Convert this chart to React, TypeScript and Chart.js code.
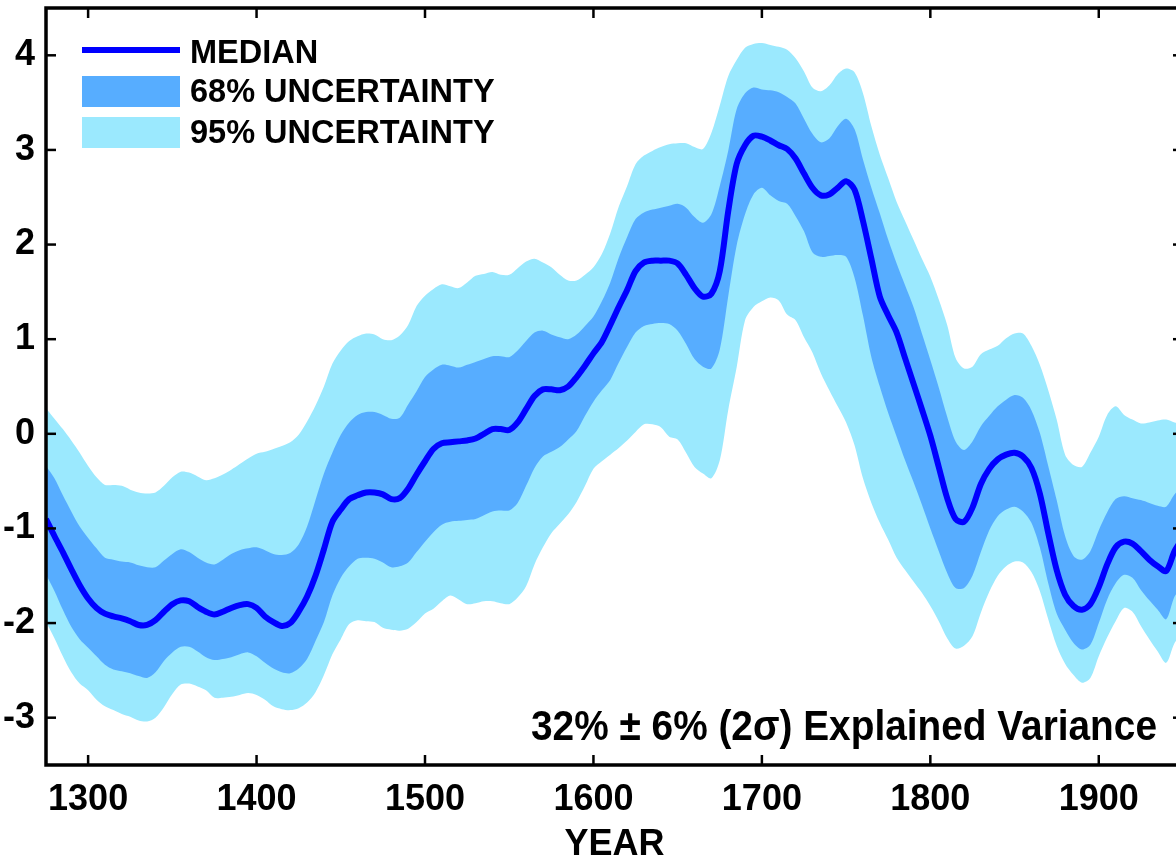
import { useEffect, useRef } from "react";
import { Chart, registerables } from "chart.js";

Chart.register(...registerables);

const years = [
  1275, 1280, 1285, 1290, 1295, 1300, 1305, 1310, 1315, 1320, 1325, 1330, 1335, 1340, 1345, 1350,
  1355, 1360, 1365, 1370, 1375, 1380, 1385, 1390, 1395, 1400, 1405, 1410, 1415, 1420, 1425, 1430,
  1435, 1440, 1445, 1450, 1455, 1460, 1465, 1470, 1475, 1480, 1485, 1490, 1495, 1500, 1505, 1510,
  1515, 1520, 1525, 1530, 1535, 1540, 1545, 1550, 1555, 1560, 1565, 1570, 1575, 1580, 1585, 1590,
  1595, 1600, 1605, 1610, 1615, 1620, 1625, 1630, 1635, 1640, 1645, 1650, 1655, 1660, 1665, 1670,
  1675, 1680, 1685, 1690, 1695, 1700, 1705, 1710, 1715, 1720, 1725, 1730, 1735, 1740, 1745, 1750,
  1755, 1760, 1765, 1770, 1775, 1780, 1785, 1790, 1795, 1800, 1805, 1810, 1815, 1820, 1825, 1830,
  1835, 1840, 1845, 1850, 1855, 1860, 1865, 1870, 1875, 1880, 1885, 1890, 1895, 1900, 1905, 1910,
  1915, 1920, 1925, 1930, 1935, 1940, 1945, 1950,
];

const median = [
  -0.9, -1.08, -1.25, -1.43, -1.6, -1.74, -1.84, -1.9, -1.93, -1.95, -1.98, -2.02, -2.02, -1.97, -1.88, -1.8,
  -1.76, -1.77, -1.83, -1.88, -1.91, -1.88, -1.84, -1.81, -1.8, -1.84, -1.93, -1.99, -2.03, -2.0, -1.88, -1.72,
  -1.5, -1.22, -0.93, -0.8, -0.69, -0.65, -0.62, -0.62, -0.64, -0.69, -0.68, -0.58, -0.43, -0.29, -0.16, -0.1,
  -0.09, -0.08, -0.07, -0.05, 0.0, 0.05, 0.05, 0.04, 0.12, 0.26, 0.4, 0.47, 0.47, 0.46, 0.5, 0.6,
  0.72, 0.85, 0.97, 1.15, 1.34, 1.52, 1.72, 1.81, 1.83, 1.83, 1.83, 1.8, 1.68, 1.54, 1.45, 1.48,
  1.72, 2.35, 2.85, 3.05, 3.15, 3.14, 3.1, 3.05, 3.01, 2.91, 2.75, 2.6, 2.52, 2.53, 2.6, 2.67,
  2.58, 2.25, 1.85, 1.45, 1.25, 1.07, 0.8, 0.53, 0.26, -0.02, -0.35, -0.68, -0.9, -0.93, -0.78, -0.53,
  -0.37, -0.27, -0.22, -0.2, -0.24, -0.36, -0.63, -1.05, -1.44, -1.7, -1.82, -1.86, -1.8, -1.62, -1.38, -1.2,
  -1.14, -1.16, -1.24, -1.33, -1.4, -1.45, -1.24, -1.1,
];

const upper68 = [
  -0.34, -0.47, -0.65, -0.82, -0.98, -1.1, -1.21, -1.31, -1.33, -1.35, -1.36, -1.39, -1.41, -1.41, -1.34, -1.27,
  -1.22, -1.25, -1.31, -1.36, -1.38, -1.33, -1.27, -1.23, -1.21, -1.2, -1.23, -1.27, -1.28, -1.26, -1.17, -0.98,
  -0.7, -0.42, -0.2, -0.01, 0.12, 0.2, 0.23, 0.23, 0.2, 0.16, 0.17, 0.31, 0.45, 0.6, 0.68, 0.73,
  0.72, 0.7, 0.73, 0.76, 0.79, 0.82, 0.82, 0.81, 0.88, 0.98, 1.07, 1.09, 1.05, 1.02, 1.0, 1.05,
  1.14, 1.24, 1.4, 1.6, 1.86, 2.08, 2.27, 2.34, 2.37, 2.39, 2.41, 2.43, 2.39, 2.29, 2.23, 2.32,
  2.62, 2.99, 3.43, 3.6, 3.66, 3.64, 3.63, 3.61, 3.56, 3.49, 3.33, 3.17, 3.08, 3.12, 3.25, 3.33,
  3.22, 2.9, 2.6, 2.33, 2.05, 1.8, 1.57, 1.34, 1.06, 0.78, 0.49, 0.18, -0.08, -0.17, -0.08, 0.08,
  0.19, 0.29, 0.36, 0.41, 0.38, 0.25, 0.01, -0.34, -0.7, -1.08, -1.29, -1.33, -1.24, -1.02, -0.83, -0.69,
  -0.66, -0.68, -0.7, -0.73, -0.76, -0.77, -0.64, -0.55,
];

const lower68 = [
  -1.49, -1.66, -1.86, -2.04, -2.17, -2.26, -2.35, -2.44, -2.49, -2.51, -2.53, -2.56, -2.58, -2.52, -2.4, -2.31,
  -2.25, -2.25, -2.3, -2.36, -2.39, -2.38, -2.36, -2.33, -2.31, -2.35, -2.42, -2.48, -2.52, -2.53, -2.48, -2.38,
  -2.19, -1.99, -1.71, -1.52, -1.4, -1.32, -1.31, -1.32, -1.36, -1.41, -1.4, -1.36, -1.25, -1.14, -1.04, -0.96,
  -0.93, -0.92, -0.91, -0.9, -0.86, -0.82, -0.81, -0.81, -0.73, -0.55, -0.36, -0.24, -0.19, -0.14, -0.06, 0.03,
  0.19, 0.34, 0.46, 0.57, 0.75, 0.92, 1.07, 1.14, 1.16, 1.17, 1.16, 1.09, 0.95, 0.79, 0.71, 0.69,
  0.89, 1.45, 1.99, 2.32, 2.53, 2.6, 2.52, 2.46, 2.43, 2.3, 2.14, 1.92, 1.87, 1.88, 1.89, 1.87,
  1.65, 1.25, 0.81, 0.5, 0.22, -0.03, -0.28, -0.51, -0.75, -1.0, -1.24, -1.47, -1.63, -1.63, -1.5, -1.25,
  -1.02, -0.87, -0.8, -0.77, -0.82, -0.94, -1.2, -1.58, -1.9, -2.07, -2.21, -2.28, -2.23, -2.0, -1.75, -1.58,
  -1.49, -1.52, -1.65, -1.76, -1.86, -1.96, -1.72, -1.6,
];

const upper95 = [
  0.27, 0.16, 0.05, -0.07, -0.2, -0.34, -0.46, -0.54, -0.54, -0.55, -0.59, -0.62, -0.63, -0.62, -0.55, -0.46,
  -0.4, -0.41, -0.45, -0.49, -0.47, -0.43, -0.38, -0.32, -0.26, -0.21, -0.19, -0.16, -0.13, -0.09, -0.01, 0.13,
  0.3, 0.5, 0.74, 0.88, 0.98, 1.03, 1.06, 1.05, 1.0, 0.99, 1.04, 1.15, 1.35, 1.46, 1.53, 1.58,
  1.56, 1.54, 1.6, 1.67, 1.69, 1.71, 1.68, 1.68, 1.75, 1.82, 1.85, 1.81, 1.76, 1.68, 1.62, 1.62,
  1.68, 1.76, 1.9, 2.12, 2.4, 2.62, 2.85, 2.94, 2.99, 3.03, 3.06, 3.07, 3.07, 3.03, 3.01, 3.18,
  3.47, 3.78, 3.95, 4.08, 4.12, 4.13, 4.11, 4.09, 4.06, 3.97, 3.83, 3.66, 3.62, 3.68, 3.8, 3.86,
  3.82, 3.6, 3.25, 2.95, 2.7, 2.45, 2.25, 2.05, 1.85, 1.66, 1.42, 1.15, 0.8, 0.69, 0.71, 0.84,
  0.89, 0.93, 1.01, 1.06, 1.06, 0.93, 0.73, 0.46, 0.15, -0.22, -0.33, -0.35, -0.2, -0.03, 0.2, 0.29,
  0.2, 0.15, 0.11, 0.12, 0.14, 0.15, 0.12, 0.1,
];

const lower95 = [
  -1.99, -2.16, -2.35, -2.52, -2.64, -2.71, -2.81, -2.88, -2.92, -2.96, -2.99, -3.03, -3.04, -3.0, -2.89, -2.75,
  -2.65, -2.64, -2.67, -2.71, -2.79, -2.79, -2.78, -2.76, -2.74, -2.76, -2.81, -2.88, -2.91, -2.92, -2.9, -2.84,
  -2.73, -2.55, -2.33, -2.17, -2.01, -1.97, -1.98, -1.99, -2.05, -2.07, -2.08, -2.06, -1.99, -1.9, -1.85, -1.77,
  -1.71, -1.75, -1.8, -1.79, -1.77, -1.77, -1.79, -1.8, -1.73, -1.61, -1.38, -1.2, -1.05, -0.95, -0.85, -0.72,
  -0.55, -0.37, -0.29, -0.22, -0.15, -0.07, 0.02, 0.1, 0.1, 0.07, -0.03, -0.06, -0.2, -0.35, -0.42, -0.47,
  -0.28, 0.25, 0.7, 1.2, 1.34, 1.4, 1.44, 1.41, 1.26, 1.2, 1.02, 0.86, 0.64, 0.46, 0.29, 0.12,
  -0.12, -0.47, -0.73, -0.94, -1.12, -1.31, -1.44, -1.56, -1.68, -1.82, -1.98, -2.16, -2.27, -2.24, -2.14, -1.89,
  -1.67, -1.5, -1.4, -1.35, -1.36, -1.46, -1.66, -1.96, -2.24, -2.43, -2.55, -2.63, -2.58, -2.35, -2.15, -1.98,
  -1.84, -1.88, -2.03, -2.17, -2.3, -2.42, -2.21, -2.1,
];

const xTicks = [1300, 1400, 1500, 1600, 1700, 1800, 1900];
const yTicks = [-3, -2, -1, 0, 1, 2, 3, 4];

const legendLabels = ["MEDIAN", "68% UNCERTAINTY", "95% UNCERTAINTY"];
const noteText = "32% \u00b1 6% (2\u03c3) Explained Variance";
const xTitle = "YEAR";

const MEDIAN_COLOR = "#0000ff";
const C68 = "#57adff";
const C95 = "#9be9fe";
const FONT = '"Liberation Sans", Arial, Helvetica, sans-serif';

const pts = (vals: number[]) => years.map((yr, i) => ({ x: yr, y: vals[i] }));

const decor = {
  id: "decor",
  afterDraw(chart: any) {
    const { ctx, chartArea: a, scales } = chart;
    const xs = scales.x;
    const ys = scales.y;
    ctx.save();
    ctx.strokeStyle = "#000";
    ctx.lineCap = "butt";
    ctx.lineWidth = 2.5;
    const seg = (x1: number, y1: number, x2: number, y2: number) => {
      ctx.beginPath();
      ctx.moveTo(x1, y1);
      ctx.lineTo(x2, y2);
      ctx.stroke();
    };
    const tl = 10;
    for (const v of xTicks) {
      const px = xs.getPixelForValue(v);
      seg(px, a.bottom, px, a.bottom - tl);
      seg(px, a.top, px, a.top + tl);
    }
    for (const v of yTicks) {
      const py = ys.getPixelForValue(v);
      seg(a.left, py, a.left + tl, py);
      seg(a.right, py, a.right - tl, py);
    }
    ctx.lineWidth = 3.5;
    ctx.strokeRect(a.left, a.top, a.right - a.left, a.bottom - a.top);

    // legend
    const lx = a.left + 36;
    const lw = 98;
    ctx.strokeStyle = MEDIAN_COLOR;
    ctx.lineWidth = 6;
    seg(lx, a.top + 42, lx + lw, a.top + 42);
    ctx.fillStyle = C68;
    ctx.fillRect(lx, a.top + 68, lw, 31);
    ctx.fillStyle = C95;
    ctx.fillRect(lx, a.top + 109, lw, 31);
    ctx.fillStyle = "#000";
    ctx.font = `bold 32.5px ${FONT}`;
    ctx.textBaseline = "alphabetic";
    ctx.textAlign = "left";
    ctx.fillText(legendLabels[0], lx + lw + 10, a.top + 55);
    ctx.fillText(legendLabels[1], lx + lw + 10, a.top + 94);
    ctx.fillText(legendLabels[2], lx + lw + 10, a.top + 135);

    // note
    ctx.font = `bold 42px ${FONT}`;
    const w = ctx.measureText(noteText).width;
    const target = 626;
    ctx.translate(531, a.bottom - 25);
    ctx.scale(target / w, 1);
    ctx.fillText(noteText, 0, 0);
    ctx.restore();
  },
};

export default function App() {
  const ref = useRef<HTMLCanvasElement | null>(null);
  useEffect(() => {
    if (!ref.current) return;
    const tickFont = { family: FONT, size: 36, weight: "bold" as const };
    const chart = new Chart(ref.current, {
      type: "line",
      data: {
        datasets: [
          {
            label: "MEDIAN",
            data: pts(median),
            borderColor: MEDIAN_COLOR,
            borderWidth: 6,
            pointRadius: 0,
            fill: false,
            tension: 0.3,
          },
          {
            label: "68% upper",
            data: pts(upper68),
            borderColor: "rgba(0,0,0,0)",
            borderWidth: 0,
            pointRadius: 0,
            backgroundColor: C68,
            fill: "+1",
            tension: 0.3,
          },
          {
            label: "68% lower",
            data: pts(lower68),
            borderColor: "rgba(0,0,0,0)",
            borderWidth: 0,
            pointRadius: 0,
            fill: false,
            tension: 0.3,
          },
          {
            label: "95% upper",
            data: pts(upper95),
            borderColor: "rgba(0,0,0,0)",
            borderWidth: 0,
            pointRadius: 0,
            backgroundColor: C95,
            fill: "+1",
            tension: 0.3,
          },
          {
            label: "95% lower",
            data: pts(lower95),
            borderColor: "rgba(0,0,0,0)",
            borderWidth: 0,
            pointRadius: 0,
            fill: false,
            tension: 0.3,
          },
        ],
      },
      options: {
        responsive: false,
        animation: false,
        layout: { padding: { top: 8, right: 17, left: 0, bottom: 0 } },
        plugins: { legend: { display: false }, tooltip: { enabled: false } },
        scales: {
          x: {
            type: "linear",
            min: 1275,
            max: 1950,
            grid: { display: false, drawTicks: false },
            border: { display: false },
            afterBuildTicks: (s: any) => {
              s.ticks = xTicks.map((v) => ({ value: v }));
            },
            afterFit: (s: any) => {
              s.height = 115;
              s.paddingLeft = 0;
              s.paddingRight = 0;
            },
            ticks: {
              font: tickFont,
              color: "#000",
              padding: 13,
              maxRotation: 0,
              autoSkip: false,
              callback: (v: any) => String(v),
            },
            title: {
              display: true,
              text: xTitle,
              font: tickFont,
              color: "#000",
              padding: { top: 0, bottom: 13 },
            },
          },
          y: {
            type: "linear",
            min: -3.5,
            max: 4.5,
            grid: { display: false, drawTicks: false },
            border: { display: false },
            afterBuildTicks: (s: any) => {
              s.ticks = yTicks.map((v) => ({ value: v }));
            },
            afterFit: (s: any) => {
              s.width = 46;
              s.paddingTop = 0;
              s.paddingBottom = 0;
            },
            ticks: {
              font: tickFont,
              color: "#000",
              padding: 11,
              autoSkip: false,
              callback: (v: any) => String(v),
            },
          },
        },
      },
      plugins: [decor],
    });
    return () => chart.destroy();
  }, []);

  return (
    <div
      style={{
        position: "fixed",
        left: 0,
        top: 0,
        width: 1176,
        height: 859,
        overflow: "hidden",
        background: "#fff",
      }}
    >
      <canvas ref={ref} width={1200} height={880} style={{ display: "block" }} />
    </div>
  );
}
